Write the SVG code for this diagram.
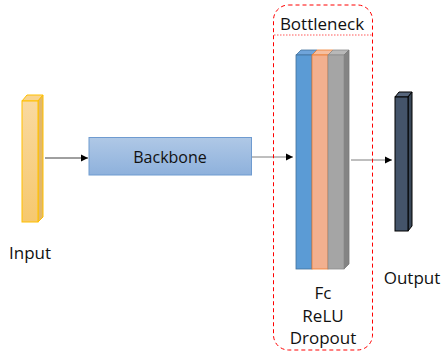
<svg xmlns="http://www.w3.org/2000/svg" width="442" height="358" viewBox="0 0 442 358">
<defs>
<style>
text{font-family:"Open Sans","Liberation Sans",sans-serif;font-size:17px;fill:#111}
.conn{stroke:#7f7f7f;stroke-width:1;fill:none}
.conn1{stroke:#404040;stroke-width:1;fill:none}
</style>
<marker id="ah" markerWidth="8" markerHeight="8" refX="7" refY="4" orient="auto" markerUnits="userSpaceOnUse">
<path d="M0,0.5 L7,4 L0,7.5 z" fill="#000"/>
</marker>
<linearGradient id="gy" x1="0" y1="0" x2="0" y2="1">
<stop offset="0" stop-color="#F9D9A0"/><stop offset="1" stop-color="#F6C86E"/>
</linearGradient>
<linearGradient id="gb" x1="0" y1="0" x2="0" y2="1">
<stop offset="0" stop-color="#AFC8E6"/><stop offset="1" stop-color="#8EB1DC"/>
</linearGradient>
</defs>
<g id="connectors">
<line class="conn1" x1="45" y1="158" x2="88" y2="158" marker-end="url(#ah)"/>
<line class="conn" x1="252" y1="157" x2="293" y2="157" marker-end="url(#ah)"/>
<line class="conn" x1="351" y1="160" x2="392" y2="160" marker-end="url(#ah)"/>
</g>
<g id="input">
<polygon points="22,101 27,95 43,95 38,101" fill="#F9D48E" stroke="#FFC000" stroke-width="1"/>
<polygon points="38,101 43,95 43,217 38,222" fill="#E2B869" stroke="#FFC000" stroke-width="1"/>
<rect x="22" y="101" width="16" height="121" fill="url(#gy)" stroke="#FFC000" stroke-width="1"/>
<text x="30" y="259" text-anchor="middle">Input</text>
</g>
<g id="backbone">
<rect x="89" y="137.5" width="162.5" height="37.5" fill="url(#gb)" stroke="#6F9BD0" stroke-width="1"/>
<text x="170" y="163" text-anchor="middle" style="font-size:16px">Backbone</text>
</g>
<g id="bottleneck">
<rect x="273.5" y="5" width="99" height="345" rx="15" ry="15" fill="none" stroke="#FF0000" stroke-width="1" stroke-dasharray="4,3"/>
<line x1="274" y1="35" x2="372" y2="35" stroke="#FF5A5A" stroke-width="1.2" stroke-dasharray="1.5,1.5"/>
<text x="322" y="29.5" text-anchor="middle">Bottleneck</text>
<polygon points="296,55 301,50 317,50 312,55" fill="#6FA4DA" stroke="#41719C" stroke-width="0.8"/>
<rect x="296" y="55" width="16" height="214" fill="#5B9BD5" stroke="#41719C" stroke-width="0.8"/>
<polygon points="312,55 317,50 333,50 328,55" fill="#F6BFA0" stroke="#ED7D31" stroke-width="0.8"/>
<rect x="312" y="55" width="16" height="214" fill="#F2B08F" stroke="#ED7D31" stroke-width="0.8"/>
<polygon points="328,55 333,50 349,50 344,55" fill="#B8B8B8" stroke="#8C8C8C" stroke-width="0.8"/>
<polygon points="344,55 349,50 349,264 344,269" fill="#848484" stroke="#7A7A7A" stroke-width="0.8"/>
<rect x="328" y="55" width="16" height="214" fill="#A5A5A5" stroke="#8C8C8C" stroke-width="0.8"/>
<text x="323" y="299" text-anchor="middle">Fc</text>
<text x="323" y="321.5" text-anchor="middle">ReLU</text>
<text x="323" y="344" text-anchor="middle">Dropout</text>
</g>
<g id="output">
<polygon points="395,97 399,92 412,92 408,97" fill="#56657B" stroke="#000" stroke-width="1"/>
<polygon points="408,97 412,92 412,226 408,231" fill="#3A4859" stroke="#000" stroke-width="1"/>
<rect x="395" y="97" width="13" height="134" fill="#44546A" stroke="#000" stroke-width="1"/>
<text x="412" y="284" text-anchor="middle">Output</text>
</g>
</svg>
